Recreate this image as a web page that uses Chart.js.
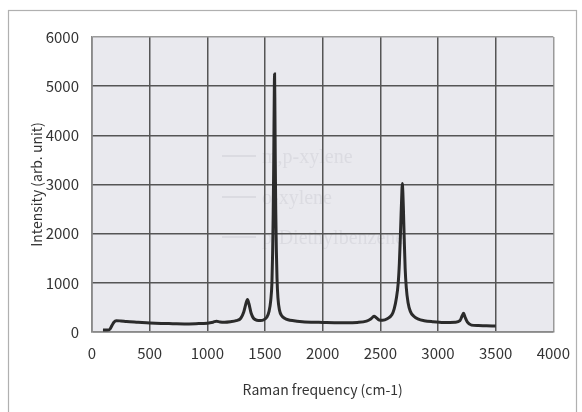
<!DOCTYPE html>
<html>
<head>
<meta charset="utf-8">
<script src="https://cdn.jsdelivr.net/npm/chart.js@4"></script>
<style>
  html, body { margin: 0; padding: 0; background: #ffffff; }
  #wrap { width: 582px; height: 412px; position: relative; }
</style>
</head>
<body>
<div id="wrap"><canvas id="c" width="582" height="412"></canvas></div>
<script>
// Raman spectrum
const ramanShift = [95,150,170,190,210,250,300,400,500,600,700,800,900,1000,1050,1080,1110,1150,1200,1250,1290,1315,1335,1348,1360,1380,1400,1430,1460,1490,1515,1535,1550,1560,1566,1571,1575,1578,1581,1583,1586,1589,1593,1598,1604,1612,1625,1645,1670,1700,1750,1800,1900,2000,2100,2200,2300,2380,2420,2445,2465,2490,2520,2560,2600,2620,2640,2655,2665,2673,2680,2686,2690,2695,2700,2707,2715,2725,2740,2760,2790,2830,2880,2950,3050,3150,3190,3210,3222,3235,3255,3290,3350,3420,3500];
const intensity = [40,45,120,200,230,225,215,200,185,175,170,165,170,180,200,220,205,200,210,230,280,400,580,660,580,380,280,240,235,250,300,420,650,1000,1600,2400,3300,4200,5000,5250,4500,3500,2500,1700,1100,700,450,330,280,250,230,215,200,195,190,190,195,220,270,320,290,245,240,270,350,470,700,1000,1400,1900,2400,2800,3020,2850,2500,1900,1300,900,600,420,320,260,230,210,195,200,230,330,380,300,200,140,130,125,120];
const xTicks = [0,500,1000,1500,2000,2500,3000,3500,4000];
const yTicks = [0,1000,2000,3000,4000,5000,6000];
const ghostLegend = ["m,p-xylene","o-xylene","p-Diethylbenzene"];

const points = ramanShift.map((x, i) => ({x: x, y: intensity[i]}));
const FONT = "'Noto Sans CJK JP', 'Noto Sans', sans-serif";

const bgPlugin = {
  id: 'bg',
  beforeDraw(chart) {
    const ctx = chart.ctx, a = chart.chartArea;
    ctx.save();
    ctx.fillStyle = '#ffffff';
    ctx.fillRect(0, 0, chart.width, chart.height);
    ctx.strokeStyle = '#b0b0b0';
    ctx.lineWidth = 1.2;
    ctx.strokeRect(8.5, 10.5, 568, 420);
    ctx.fillStyle = '#e9e9ee';
    ctx.fillRect(a.left, a.top, a.right - a.left, a.bottom - a.top);
    // faint bleed-through legend
    ctx.fillStyle = 'rgba(150,150,160,0.16)';
    ctx.strokeStyle = 'rgba(150,150,160,0.16)';
    ctx.font = "20px 'Liberation Serif', serif";
    const lx = 222, ly = [156, 197, 237];
    ghostLegend.forEach((t, i) => {
      ctx.lineWidth = 2;
      ctx.beginPath(); ctx.moveTo(lx, ly[i]); ctx.lineTo(lx + 34, ly[i]); ctx.stroke();
      ctx.fillText(t, lx + 40, ly[i] + 7);
    });
    ctx.restore();
  }
};

new Chart(document.getElementById('c'), {
  type: 'scatter',
  data: {
    datasets: [{
      data: points,
      showLine: true,
      borderColor: '#2b2b2b',
      borderWidth: 3,
      pointRadius: 0,
      tension: 0.25,
      cubicInterpolationMode: 'monotone'
    }]
  },
  plugins: [bgPlugin],
  options: {
    responsive: false,
    animation: false,
    layout: { padding: { left: 0, top: 37, right: 24, bottom: 0 } },
    plugins: { legend: { display: false }, tooltip: { enabled: false } },
    scales: {
      x: {
        type: 'linear', min: 0, max: 4000,
        afterBuildTicks(s) { s.ticks = xTicks.map(v => ({value: v})); },
        afterFit(s) { s.height = 80; },
        grid: {
          drawTicks: false,
          lineWidth: 1.5,
          color: c => (c.tick && (c.tick.value === 4000)) ? '#9a9a9a' : '#555555'
        },
        border: { display: true, color: '#8a8a8a', width: 1.5 },
        ticks: { padding: 12, color: '#333333', font: { family: FONT, size: 15 }, maxRotation: 0, callback: v => String(v) },
        title: { display: true, text: 'Raman frequency (cm-1)', color: '#333333', font: { family: FONT, size: 14 }, padding: { top: 0, bottom: 14 } }
      },
      y: {
        type: 'linear', min: 0, max: 6000,
        afterBuildTicks(s) { s.ticks = yTicks.map(v => ({value: v})); },
        afterFit(s) { s.width = 92; },
        grid: {
          drawTicks: false,
          lineWidth: 1.5,
          color: c => (c.tick && (c.tick.value === 6000)) ? '#9a9a9a' : '#555555'
        },
        border: { display: true, color: '#8a8a8a', width: 1.5 },
        ticks: { padding: 13, color: '#333333', font: { family: FONT, size: 15 }, callback: v => String(v) },
        title: { display: true, text: 'Intensity (arb. unit)', color: '#333333', font: { family: FONT, size: 14 }, padding: { top: 28, bottom: 0 } }
      }
    }
  }
});
</script>
</body>
</html>
